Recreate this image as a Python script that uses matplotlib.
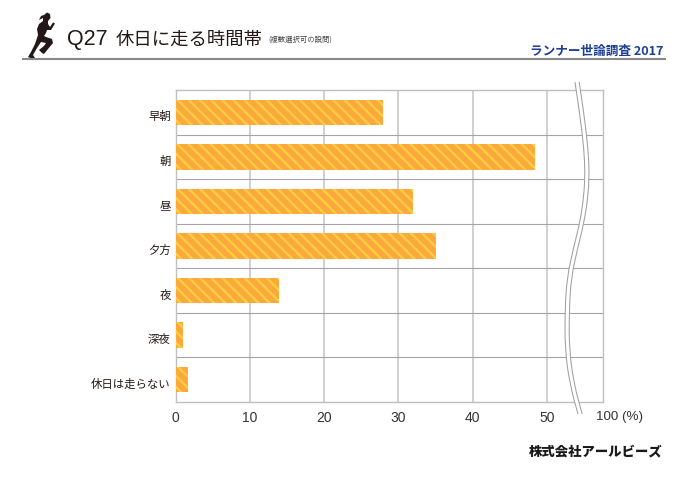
import matplotlib
matplotlib.use('Agg')
import matplotlib.pyplot as plt
from matplotlib.patches import Polygon, PathPatch
from matplotlib.path import Path

CJK = ['Noto Sans CJK JP', 'DejaVu Sans']
LATIN = ['Liberation Sans', 'DejaVu Sans']
plt.rcParams['font.family'] = CJK
plt.rcParams['hatch.linewidth'] = 1.7
plt.rcParams['hatch.color'] = '#FFCE3C'

categories = ['早朝', '朝', '昼', '夕方', '夜', '深夜', '休日は走らない']
values = [27.9, 48.4, 32.0, 35.0, 13.9, 1.0, 1.7]
x_ticks = [0, 10, 20, 30, 40, 50]

W, H = 688, 487
fig = plt.figure(figsize=(W/100, H/100), dpi=100)

def fx(x): return x / W
def fy(y): return 1 - y / H

L, R, T, B = 175.5, 602.5, 90, 402
ax = fig.add_axes([fx(L), fy(B), (R-L)/W, (B-T)/H])
ax.set_xlim(0, (R-L)/7.43)
ax.set_ylim(len(categories) - 0.5, -0.5)
ax.barh(range(len(categories)), values, height=0.57, color='#FBA93E',
        hatch='\\\\\\', edgecolor='#FFCE3C', linewidth=0, zorder=3)
ax.set_xticks(x_ticks)
ax.set_yticks([i + 0.5 for i in range(len(categories) - 1)], minor=True)
ax.set_yticks(range(len(categories)), [''] * len(categories))
ax.tick_params(axis='y', which='both', length=0)
ax.tick_params(axis='x', length=0, pad=6.3, labelcolor='#333333')
for t in ax.get_xticklabels():
    t.set_fontfamily(LATIN)
    t.set_fontsize(10)
for i, c in enumerate(categories):
    ax.annotate(c, xy=(0, i), xycoords=('axes fraction', 'data'), xytext=(-3.4, -3.3),
                textcoords='offset points', ha='right', va='center',
                fontsize=8.2, color='#231815')
ax.grid(axis='x', color='#C4C4C4', lw=1.1, zorder=1)
ax.grid(axis='y', which='minor', color='#A4A4A4', lw=0.8, zorder=1)
for s in ax.spines.values():
    s.set_color('#C0C0C0')
    s.set_linewidth(1.0)

# axis break: white band between two thin curves
curve = [(575, 82), (580, 115), (584, 150), (585, 172), (584, 195), (580, 222),
         (573, 250), (567, 278), (565, 310), (565, 350), (570, 385), (578, 414)]
def smooth(points, dx):
    verts = [(fx(points[0][0] + dx), fy(points[0][1]))]
    codes = [Path.MOVETO]
    for i in range(1, len(points) - 1):
        x0, y0 = points[i]
        x1, y1 = points[i + 1]
        verts += [(fx(x0 + dx), fy(y0)), (fx((x0 + x1) / 2 + dx), fy((y0 + y1) / 2))]
        codes += [Path.CURVE3, Path.CURVE3]
    verts.append((fx(points[-1][0] + dx), fy(points[-1][1])))
    codes.append(Path.LINETO)
    return verts, codes
v1, c1 = smooth(curve, 0)
v2, c2 = smooth(curve, 4.2)
fig.add_artist(Polygon(v1 + v2[::-1], closed=True, transform=fig.transFigure, fc='white', ec='none', zorder=5))
for v, c in ((v1, c1), (v2, c2)):
    fig.add_artist(PathPatch(Path(v, c), transform=fig.transFigure, fc='none', ec='#A0A0A0', lw=0.75, zorder=6))

# header
fig.add_artist(plt.Line2D([fx(23), fx(665)], [fy(58.5), fy(58.5)], color='#8A8A8A', lw=1.5))
fig.text(fx(67), fy(39.5), 'Q27', fontsize=15.5, family=LATIN, color='#231815', va='center', ha='left')
fig.text(fx(116), fy(40), '休日に走る時間帯', fontsize=13.2, color='#231815', va='center', ha='left')
fig.text(fx(268), fy(40), '(複数選択可の設問)', fontsize=5.3, color='#444444', va='center', ha='left')
fig.text(fx(663), fy(51), 'ランナー世論調査 2017', fontsize=9.1, color='#1D3F94', va='center', ha='right',
         fontweight='bold', style='italic')
fig.text(fx(596), fy(417), '100 (%)', fontsize=9.6, family=LATIN, color='#333333', va='center', ha='left')
fig.text(fx(663), fy(451), '株式会社アールビーズ', fontsize=9.6, color='#1A1A1A', va='center', ha='right',
         fontweight='black', style='italic')

# runner silhouette
runner = [(44, 15), (47, 12.5), (50, 14), (50.5, 18), (48, 21), (48, 24), (50, 27), (53, 22.5),
          (55, 23.5), (51, 30), (47, 30), (46, 33), (44, 36), (46, 37), (52, 39), (53, 43),
          (48, 49), (44, 54), (42, 53), (39, 50), (44, 46), (46, 43), (41, 42), (37, 48),
          (33, 55), (35, 58), (33, 59), (28, 57), (31, 52), (35, 44), (38, 35), (37, 29),
          (39, 24), (43, 21), (43, 18), (39, 20), (41, 16)]
fig.add_artist(Polygon([(fx(x), fy(y)) for x, y in runner], closed=True, transform=fig.transFigure,
                       fc='#231815', ec='none'))

fig.savefig('out.png', dpi=100)
